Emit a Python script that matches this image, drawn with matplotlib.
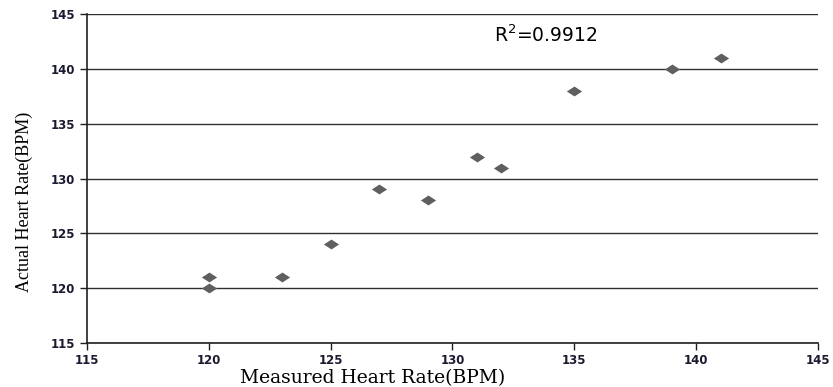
import matplotlib
matplotlib.use('Agg')
import matplotlib.pyplot as plt
from matplotlib.path import Path

measured = [120, 120, 123, 125, 127, 129, 131, 132, 135, 139, 141]
actual = [121, 120, 121, 124, 129, 128, 132, 131, 138, 140, 141]
ticks = [115, 120, 125, 130, 135, 140, 145]
r2_text = 'R$^{2}$=0.9912'

plt.rcParams['mathtext.default'] = 'regular'

fig = plt.figure(figsize=(8.33, 3.87), dpi=100)
ax = fig.add_axes([0.1044, 0.1137, 0.8776, 0.8501])

# flattened diamond like the spreadsheet marker
diamond = Path([(-1, 0), (0, 0.65), (1, 0), (0, -0.65), (-1, 0)],
               [Path.MOVETO, Path.LINETO, Path.LINETO, Path.LINETO, Path.CLOSEPOLY])
ax.scatter(measured, actual, marker=diamond, s=120, color='#5f5f5f', zorder=3, linewidths=0)

ax.set_xlim(115, 145)
ax.set_ylim(115, 145)
ax.set_xticks(ticks)
ax.set_yticks(ticks)
ax.grid(axis='y', color='#303030', linewidth=1)
ax.set_axisbelow(True)

for side in ['top', 'right']:
    ax.spines[side].set_visible(False)
for side in ['left', 'bottom']:
    ax.spines[side].set_color('#202020')
    ax.spines[side].set_linewidth(1.2)

ax.tick_params(direction='out', length=5, width=1, color='#202020',
               labelsize=8.5, labelcolor='#1a1a30')
ax.tick_params(axis='x', pad=3)
for lbl in ax.get_xticklabels() + ax.get_yticklabels():
    lbl.set_fontweight('bold')

ax.set_xlabel('Measured Heart Rate(BPM)', family='DejaVu Serif', fontsize=13.5)
ax.xaxis.set_label_coords(0.391, -0.08)
ax.set_ylabel('Actual Heart Rate(BPM)', family='Liberation Serif', fontsize=13)
ax.yaxis.set_label_coords(-0.074, 0.428)

ax.text(131.7, 143.1, r2_text, fontsize=13.5, family='DejaVu Sans', va='center')

fig.savefig('out.png', dpi=100)
